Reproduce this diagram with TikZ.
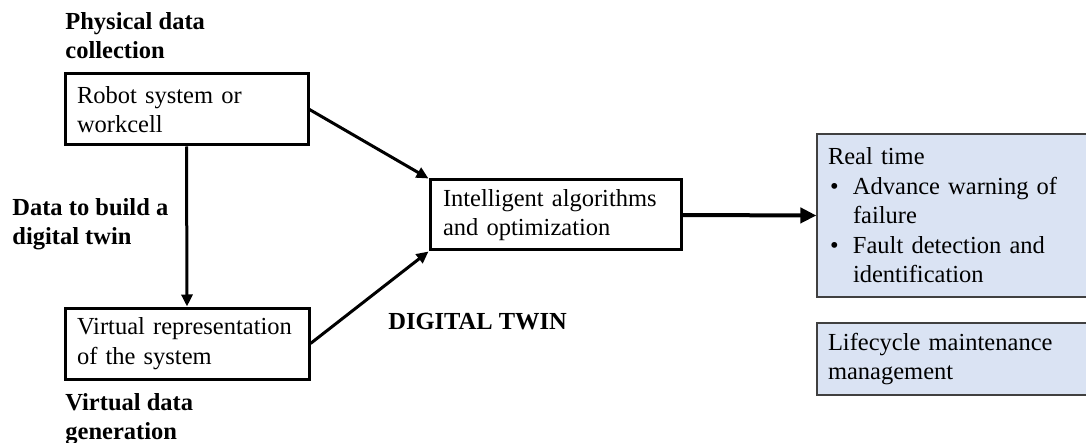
\documentclass[tikz,border=0pt]{standalone}
\usepackage{fontspec}
\setmainfont{Liberation Serif}
\usetikzlibrary{arrows.meta}
\definecolor{boxblue}{HTML}{DAE3F3}
\definecolor{edgegray}{HTML}{404040}
\begin{document}
\begin{tikzpicture}[x=0.5pt,y=-0.5pt,
  txt/.style={font=\fontsize{12.25pt}{14.75pt}\selectfont},
  blackbox/.style={txt,draw=black,line width=1.5pt,rectangle,align=left,inner ysep=0pt},
  bluebox/.style={txt,draw=edgegray,fill=boxblue,line width=0.6pt,rectangle,align=left,inner ysep=0pt,inner xsep=5.5pt,minimum width=136.5pt,text width=125.5pt},
  lbl/.style={font=\fontsize{12.25pt}{14.25pt}\selectfont\bfseries,align=left,anchor=north west,inner sep=0pt},
  arr/.style={line width=1.5pt,-{Triangle[length=6pt,width=5.5pt]}},
  bigarr/.style={line width=2pt,-{Triangle[length=8pt,width=7.5pt]}}
]
\clip (0,0) rectangle (1086,443);
\fill[white] (0,0) rectangle (1086,443);

\node[blackbox,inner xsep=6pt,text width=109.5pt,minimum width=121.5pt,minimum height=35.5pt] (b1) at (186.5,109.5) {Robot system or\\workcell};
\node[blackbox,inner xsep=6pt,text width=110pt,minimum width=122pt,minimum height=35.5pt] (b2) at (187,343.5) {Virtual representation\\of the system};
\node[blackbox,inner xsep=6.5pt,text width=112.5pt,minimum width=125.5pt,minimum height=35pt] (b3) at (555.5,215) {Intelligent algorithms\\and optimization};

\node[bluebox,minimum height=81.5pt] (rt) at (953.5,215.5) {Real time\\
\makebox[12.5pt][l]{\hspace{1pt}•}Advance warning of\\
\hspace*{12.5pt}failure\\
\makebox[12.5pt][l]{\hspace{1pt}•}Fault detection and\\
\hspace*{12.5pt}identification};
\node[bluebox,minimum height=36pt] (lm) at (953.5,359) {Lifecycle maintenance\\management};

\node[lbl] (l1) at (65,12.5) {Physical data\\collection};
\node[lbl] (l2) at (12,198.5) {Data to build a\\digital twin};
\node[lbl] (l3) at (65,393.5) {Virtual data\\generation};
\node[lbl] (l4) at (388,313) {DIGITAL TWIN};

\draw[arr] (b1.east) -- (b3.north west);
\draw[arr] (b2.east) -- (b3.south west);
\draw[arr] (b1.south) -- (b2.north);
\draw[bigarr] (b3.east) -- (rt.west);
\end{tikzpicture}
\end{document}
